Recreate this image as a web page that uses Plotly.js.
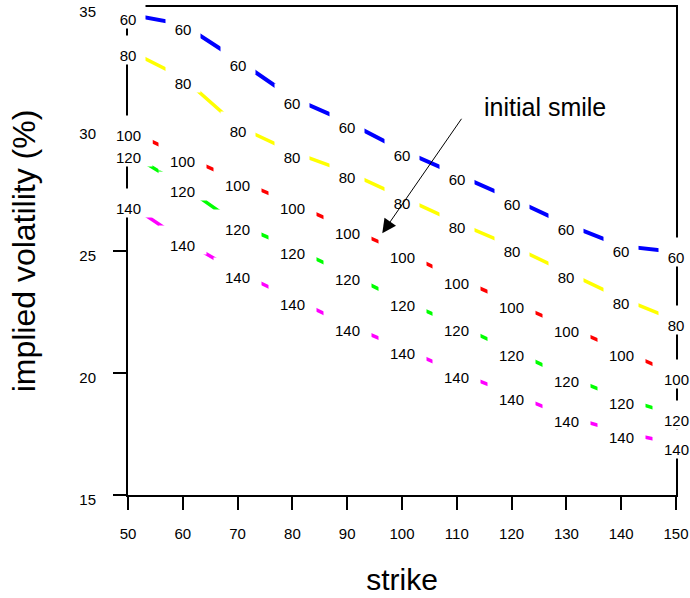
<!DOCTYPE html>
<html><head><meta charset="utf-8">
<script src="https://cdn.plot.ly/plotly-3.0.1.min.js"></script>
<style>html,body{margin:0;padding:0;background:#fff}#chart{width:690px;height:598px}</style>
</head><body><div id="chart"></div>
<script>
// strikes (x) and implied volatility (%) for each labelled curve
const strikes = [50, 60, 70, 80, 90, 100, 110, 120, 130, 140, 150];
const curveLabels = ['60', '80', '100', '120', '140'];
const curveColors = ['#0000ff', '#ffff00', '#ff0000', '#00ff00', '#ff00ff'];
const vol60  = [34.70, 34.29, 32.83, 31.28, 30.29, 29.13, 28.14, 27.15, 26.10, 25.21, 24.96];
const vol80  = [33.24, 32.10, 30.12, 29.06, 28.24, 27.19, 26.17, 25.21, 24.14, 23.07, 22.16];
const vol100 = [29.95, 28.90, 27.90, 26.95, 25.95, 24.96, 23.89, 22.91, 21.93, 20.93, 19.94];
const vol120 = [29.04, 27.67, 26.10, 25.13, 24.07, 22.98, 21.98, 20.93, 19.87, 18.97, 18.29];
const vol140 = [26.95, 25.44, 24.14, 23.05, 21.98, 21.02, 20.04, 19.15, 18.23, 17.58, 17.10];
const xTicks = [50, 60, 70, 80, 90, 100, 110, 120, 130, 140, 150];
const yTicks = [15, 20, 25, 30, 35];

const series = [vol60, vol80, vol100, vol120, vol140];
const FONT = '"Liberation Sans", Arial, Helvetica, sans-serif';

const traces = series.map((vals, i) => ({
  type: 'scatter', mode: 'lines', x: strikes, y: vals,
  name: curveLabels[i], showlegend: false, hoverinfo: 'skip',
  line: {color: curveColors[i], width: i === 0 ? 4 : 3.5}
}));

// inline curve labels (white boxes break the curves), drawn bottom curve first
const annotations = [];
for (let i = series.length - 1; i >= 0; i--) {
  const lab = curveLabels[i];
  strikes.forEach((s, j) => {
    annotations.push({
      x: s, y: series[i][j], xref: 'x', yref: 'y', text: lab, showarrow: false,
      bgcolor: '#ffffff', borderpad: 0, width: lab.length === 2 ? 34 : 47, height: 28,
      valign: 'bottom', font: {family: FONT, size: 15, color: '#000'}
    });
  });
}
annotations.push({
  x: 96.4, y: 25.73, ax: 111.05, ay: 30.48, xref: 'x', yref: 'y', axref: 'x', ayref: 'y',
  text: '', showarrow: true, arrowhead: 2, arrowsize: 2.8, arrowwidth: 1, arrowcolor: '#000'
});
annotations.push({
  x: 126.1, y: 30.92, xref: 'x', yref: 'y', text: 'initial smile', showarrow: false,
  font: {family: FONT, size: 25, color: '#000'}
});

const layout = {
  width: 690, height: 598,
  margin: {l: 128, r: 14, t: 7, b: 103},
  paper_bgcolor: '#fff', plot_bgcolor: '#fff',
  font: {family: FONT, color: '#000'},
  xaxis: {
    range: [50, 150], tickvals: xTicks, ticktext: xTicks.map(String),
    ticks: 'outside', ticklen: 13, tickwidth: 2, tickcolor: '#000',
    showline: true, linewidth: 2, linecolor: '#000', mirror: true,
    showgrid: false, zeroline: false, tickfont: {size: 15, family: FONT},
    ticklabelstandoff: 11,
    title: {text: 'strike', font: {size: 30, family: FONT}, standoff: 28}
  },
  yaxis: {
    range: [15, 35], tickvals: yTicks, ticktext: yTicks.map(String),
    ticks: 'outside', ticklen: 13, tickwidth: 2, tickcolor: '#000',
    showline: true, linewidth: 2, linecolor: '#000', mirror: true,
    showgrid: false, zeroline: false, tickfont: {size: 15, family: FONT},
    ticklabelstandoff: 14, ticklabelshift: 5,
    title: {text: 'implied volatility (%)', font: {size: 32, family: FONT}, standoff: 34}
  },
  annotations: annotations
};

Plotly.newPlot('chart', traces, layout, {staticPlot: true, displayModeBar: false});
</script>
</body></html>
